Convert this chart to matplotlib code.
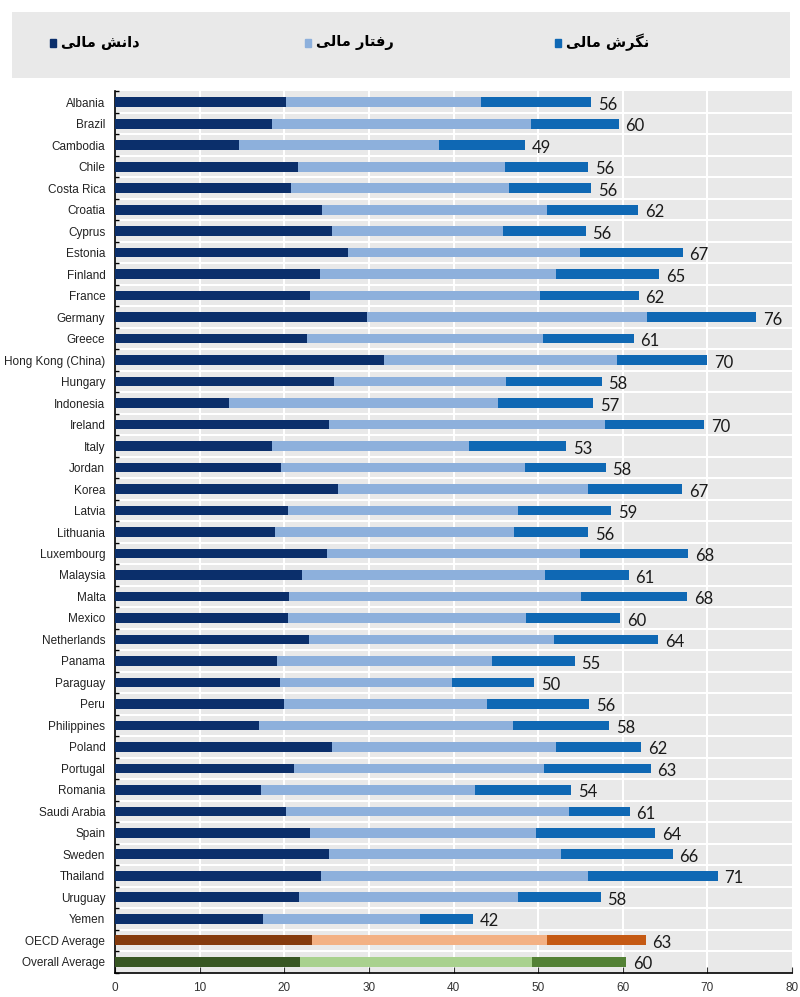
import matplotlib.pyplot as plt
import numpy as np

countries = ["Albania", "Brazil", "Cambodia", "Chile", "Costa Rica", "Croatia", "Cyprus",
             "Estonia", "Finland", "France", "Germany", "Greece", "Hong Kong (China)",
             "Hungary", "Indonesia", "Ireland", "Italy", "Jordan", "Korea", "Latvia",
             "Lithuania", "Luxembourg", "Malaysia", "Malta", "Mexico", "Netherlands",
             "Panama", "Paraguay", "Peru", "Philippines", "Poland", "Portugal", "Romania",
             "Saudi Arabia", "Spain", "Sweden", "Thailand", "Uruguay", "Yemen",
             "OECD Average", "Overall Average"]

# segment widths: knowledge, behaviour, attitude
knowledge = [20.2, 18.6, 14.6, 21.6, 20.8, 24.5, 25.6, 27.5, 24.2, 23.1, 29.8, 22.7, 31.8,
             25.9, 13.5, 25.3, 18.6, 19.6, 26.4, 20.4, 18.9, 25.1, 22.1, 20.6, 20.5, 22.9,
             19.1, 19.5, 20.0, 17.0, 25.6, 21.2, 17.3, 20.2, 23.1, 25.3, 24.4, 21.8, 17.5,
             23.3, 21.9]
behaviour = [23.0, 30.5, 23.7, 24.5, 25.7, 26.6, 20.2, 27.4, 27.9, 27.1, 33.1, 27.9, 27.5,
             20.3, 31.7, 32.6, 23.2, 28.8, 29.5, 27.2, 28.3, 29.8, 28.7, 34.5, 28.1, 29.0,
             25.4, 20.3, 23.9, 30.0, 26.5, 29.5, 25.2, 33.4, 26.7, 27.4, 31.5, 25.8, 18.6,
             27.8, 27.4]
attitude = [13.1, 10.4, 10.2, 9.8, 9.8, 10.7, 9.8, 12.2, 12.2, 11.7, 12.9, 10.7, 10.7,
            11.3, 11.3, 11.7, 11.5, 9.6, 11.1, 11.0, 8.7, 12.8, 9.9, 12.5, 11.1, 12.3,
            9.8, 9.7, 12.1, 11.4, 10.1, 12.6, 11.4, 7.2, 14.0, 13.2, 15.3, 9.8, 6.2,
            11.6, 11.1]
totals = [56, 60, 49, 56, 56, 62, 56, 67, 65, 62, 76, 61, 70, 58, 57, 70, 53, 58, 67, 59,
          56, 68, 61, 68, 60, 64, 55, 50, 56, 58, 62, 63, 54, 61, 64, 66, 71, 58, 42, 63, 60]

# Persian legend labels, pre-shaped (presentation forms, visual order)
leg_knowledge = "\uFEF0\uFEDF\uFE8E\uFEE3 \uFEB6\uFEE7\uFE8D\uFEA9"   # دانش مالی
leg_behaviour = "\uFEF0\uFEDF\uFE8E\uFEE3 \uFEAD\uFE8E\uFE98\uFED3\uFEAD"   # رفتار مالی
leg_attitude = "\uFEF0\uFEDF\uFE8E\uFEE3 \uFEB5\uFEAE\uFB95\uFEE7"   # نگرش مالی

blues = ["#0b2f6b", "#8db0dc", "#0f68b4"]
oecd = ["#853b0e", "#f3b184", "#c55a14"]
overall = ["#385723", "#a9d18e", "#538135"]

n = len(countries)
y = np.arange(n)
k = np.array(knowledge)
b = np.array(behaviour)
a = np.array(attitude)

cols = [blues] * (n - 2) + [oecd, overall]
c1 = [c[0] for c in cols]
c2 = [c[1] for c in cols]
c3 = [c[2] for c in cols]

fig = plt.figure(figsize=(8, 9.97), dpi=100)

# legend panel
lax = fig.add_axes([12 / 800, 1 - 78 / 997, 778 / 800, 66 / 997])
lax.set_facecolor("#e9e9e9")
lax.set_xlim(0, 778)
lax.set_ylim(0, 66)
for s in lax.spines.values():
    s.set_visible(False)
lax.set_xticks([])
lax.set_yticks([])
for x0, txt, col in [(38, leg_knowledge, blues[0]), (293, leg_behaviour, blues[1]),
                     (543, leg_attitude, blues[2])]:
    lax.add_patch(plt.Rectangle((x0, 31), 6, 8, color=col))
    lax.text(x0 + 11, 36, txt, fontsize=10.5, fontweight="bold", va="center", ha="left",
             family=["DejaVu Sans"])

ax = fig.add_axes([115 / 800, 1 - 972.5 / 997, 677 / 800, 881 / 997])
ax.set_facecolor("#e9e9e9")
h = 0.45
ax.barh(y, k, height=h, color=c1, zorder=3)
ax.barh(y, b, left=k, height=h, color=c2, zorder=3)
ax.barh(y, a, left=k + b, height=h, color=c3, zorder=3)

for yi, tot, lab in zip(y, k + b + a, totals):
    ax.text(tot + 0.8, yi + 0.12, str(lab), fontsize=12, va="center", ha="left",
            color="#1a1a1a", family=["Lato", "DejaVu Sans"], zorder=4)

ax.set_ylim(n - 0.5, -0.5)
ax.set_xlim(0, 80)
ax.set_xticks(np.arange(0, 81, 10))
ax.set_yticks(y)
ax.set_yticklabels(countries, fontsize=8.5, color="#222222",
                   family=["Liberation Sans Narrow", "Liberation Sans"])
ax.set_yticks(np.arange(-0.5, n, 1), minor=True)
ax.tick_params(axis="y", which="major", length=0, pad=7)
ax.tick_params(axis="y", which="minor", length=3, direction="in", width=1)
ax.tick_params(axis="x", length=4, direction="in", labelsize=8.5, pad=7, colors="#333333")
for lbl in ax.get_xticklabels():
    lbl.set_family(["Liberation Sans Narrow", "Liberation Sans"])
for xv in range(10, 80, 10):
    ax.axvline(xv, color="white", lw=1.5, zorder=1)
for yv in np.arange(0.5, n - 1, 1):
    ax.axhline(yv, color="white", lw=1.5, zorder=1)
ax.spines["top"].set_visible(False)
ax.spines["right"].set_visible(False)
ax.spines["left"].set_linewidth(1.2)
ax.spines["bottom"].set_linewidth(1.2)

fig.savefig("out.png", dpi=100)
